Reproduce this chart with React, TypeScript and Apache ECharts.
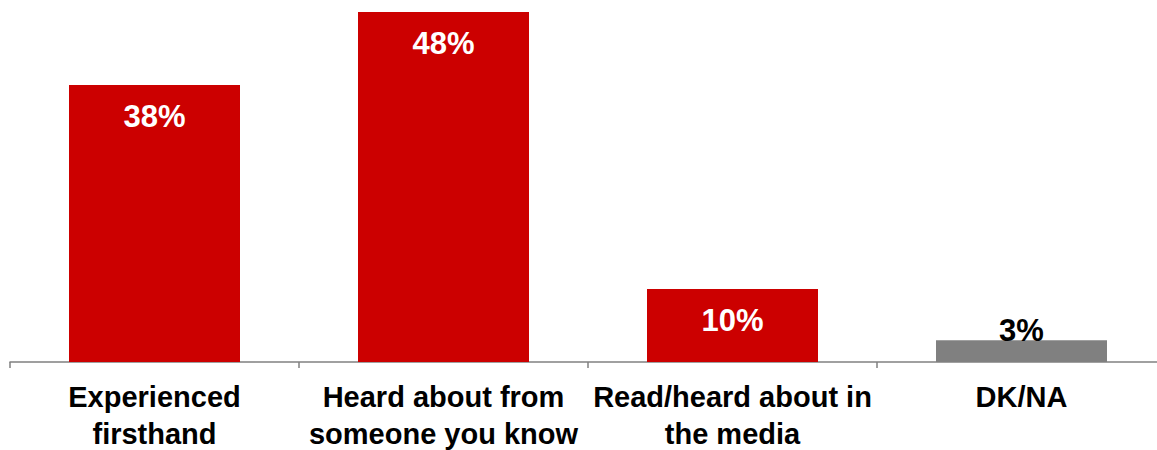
import React, { useEffect, useRef } from "react";
import * as echarts from "echarts";

const categories = [
  "Experienced\nfirsthand",
  "Heard about from\nsomeone you know",
  "Read/heard about in\nthe media",
  "DK/NA",
];
const values = [38, 48, 10, 3];
const barColors = ["#CC0000", "#CC0000", "#CC0000", "#808080"];
const labelColors = ["#FFFFFF", "#FFFFFF", "#FFFFFF", "#000000"];

export default function App() {
  const ref = useRef<HTMLDivElement>(null);
  useEffect(() => {
    if (!ref.current) return;
    const chart = echarts.init(ref.current, null, { renderer: "svg" });
    chart.setOption({
      animation: false,
      grid: { left: 10, top: 12, bottom: 88, width: 1156, outerBoundsMode: "none", containLabel: false },
      xAxis: {
        type: "category",
        data: categories,
        axisLine: { lineStyle: { color: "#808080", width: 1.5 } },
        axisTick: { show: true, length: 6, lineStyle: { color: "#808080", width: 1.5 } },
        axisLabel: {
          margin: 16,
          color: "#000000",
          fontFamily: "Liberation Sans, Arial, sans-serif",
          fontWeight: "bold",
          fontSize: 29,
          lineHeight: 37,
          interval: 0,
        },
      },
      yAxis: {
        type: "value",
        min: 0,
        max: 48,
        show: false,
        splitLine: { show: false },
      },
      series: [
        {
          type: "bar",
          barWidth: 171,
          data: values.map((v, i) => ({
            value: v,
            itemStyle: { color: barColors[i] },
            label: {
              color: labelColors[i],
              offset: v < 5 ? [0, -41] : [0, 0],
            },
          })),
          label: {
            show: true,
            position: "insideTop",
            distance: 16,
            formatter: "{c}%",
            fontFamily: "Liberation Sans, Arial, sans-serif",
            fontWeight: "bold",
            fontSize: 31,
          },
        },
      ],
    });
    return () => chart.dispose();
  }, []);
  return (
    <div
      ref={ref}
      style={{ position: "absolute", left: 0, top: 0, width: 1157, height: 450 }}
    />
  );
}
